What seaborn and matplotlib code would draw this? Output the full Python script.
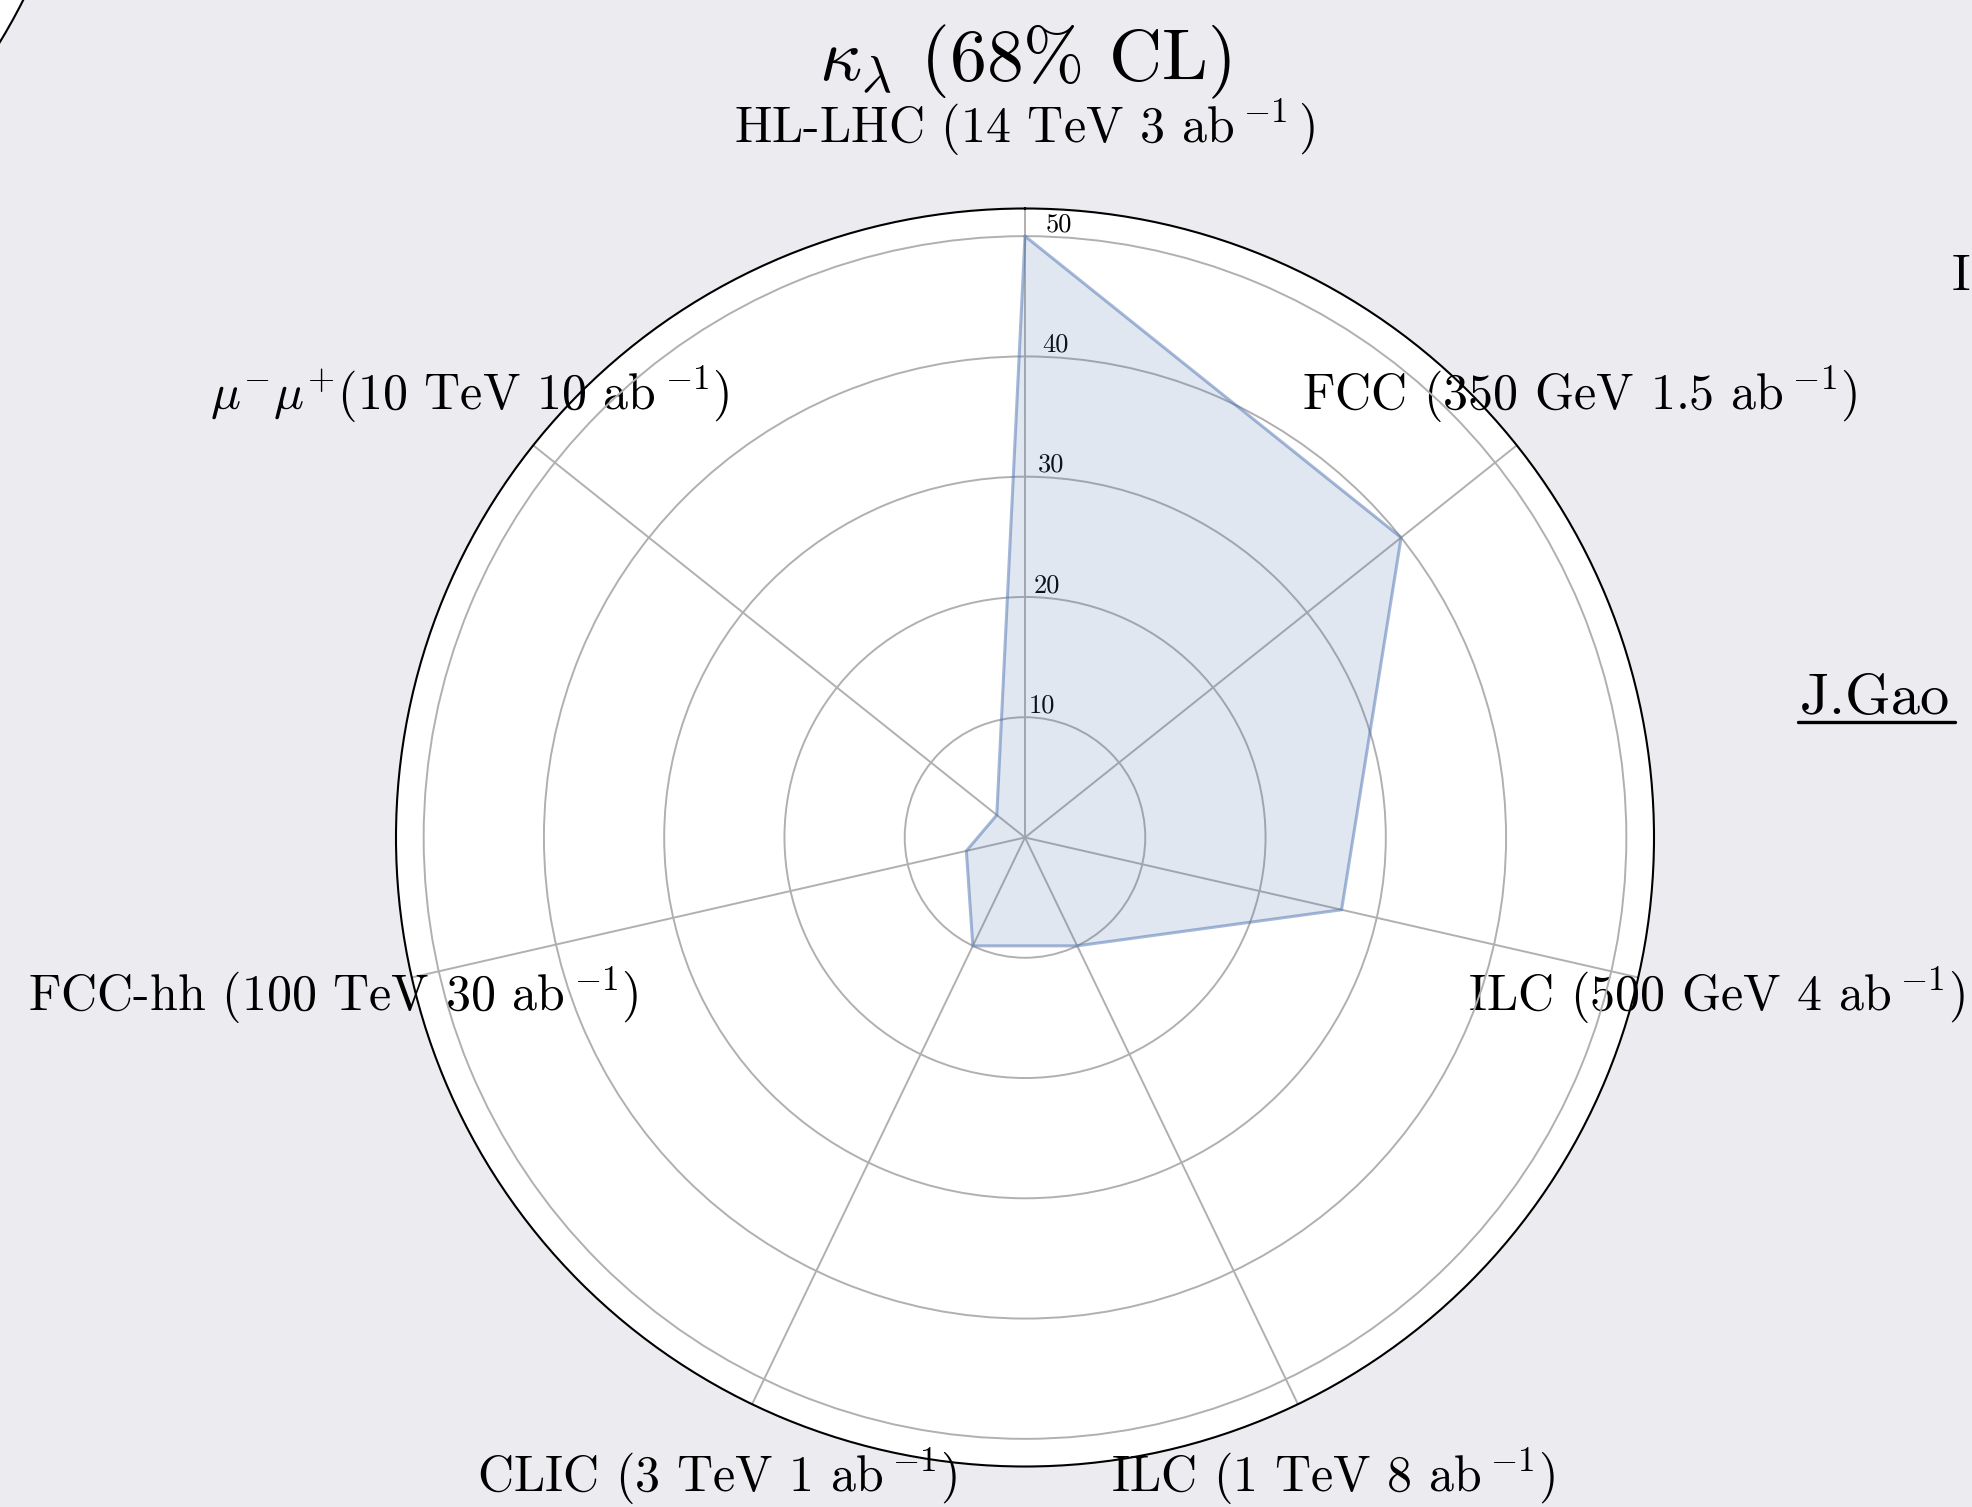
import numpy as np
import matplotlib
matplotlib.use("Agg")
import matplotlib.pyplot as plt
from matplotlib.lines import Line2D
import seaborn as sns

# Projected kappa_lambda precision (68% CL, in %) at future colliders
colliders = [
    r"HL-LHC (14 TeV 3 ab$\,{}^{-1}\,$)",
    r"FCC (350 GeV 1.5 ab$\,{}^{-1}$)",
    r"ILC (500 GeV 4 ab$\,{}^{-1}$)",
    r"ILC (1 TeV 8 ab$\,{}^{-1}$)",
    r"CLIC (3 TeV 1 ab$\,{}^{-1}$)",
    r"FCC-hh (100 TeV 30 ab$\,{}^{-1}$)",
    r"$\mu^{-}\mu^{+}$(10 TeV 10 ab$\,{}^{-1}$)",
]
kappa_lambda = [50, 40, 27, 10, 10, 5, 3]
r_ticks = [10, 20, 30, 40, 50]
r_tick_labels = ["10", "20", "30", "40", "50"]
title_text = r"$\kappa_{\lambda}$ (68% CL)"
author_text = "J.Gao"

BG = "#ECEBEF"
LINE = "#4C72B0"

sns.set_theme(style="white")
plt.rcParams["font.family"] = ["cmr10", "DejaVu Serif"]
plt.rcParams["mathtext.fontset"] = "cm"
plt.rcParams["axes.formatter.use_mathtext"] = True
plt.rcParams["axes.unicode_minus"] = True
plt.rcParams["text.color"] = "black"
plt.rcParams["xtick.color"] = "black"
plt.rcParams["ytick.color"] = "black"

W, H = 1972, 1507
fig = plt.figure(figsize=(W / 100, H / 100), dpi=100, facecolor=BG)

# neighbouring panel, only its rim reaches into this view
ghost = fig.add_axes([-0.5918, 0.7711, 0.638, 0.8348], projection="polar")
ghost.set_facecolor("white")
ghost.set_xticks([])
ghost.set_yticks([])
ghost.grid(False)
ghost.spines["polar"].set_color("black")
ghost.spines["polar"].set_linewidth(1.5)

# main radar panel
cx, cy, rad = 1025, 837.5, 629
ax = fig.add_axes([(cx - rad) / W, (H - cy - rad) / H, 2 * rad / W, 2 * rad / H],
                  projection="polar")
ax.set_facecolor("white")
ax.set_theta_offset(np.pi / 2)
ax.set_theta_direction(-1)

n = len(colliders)
theta = np.linspace(0, 2 * np.pi, n, endpoint=False)
theta_closed = np.append(theta, theta[0])
vals_closed = np.append(kappa_lambda, kappa_lambda[0])

ax.fill(theta_closed, vals_closed, color=LINE, alpha=0.17, lw=0)
sns.lineplot(x=theta_closed, y=vals_closed, sort=False, estimator=None,
             color=LINE, alpha=0.5, lw=2.2, ax=ax)

ax.set_ylim(0, 52.3)
ax.set_yticks(r_ticks)
ax.set_yticklabels(r_tick_labels, fontsize=19, color="black")
ax.set_rlabel_position(2)

ax.set_xticks(theta)
ax.set_xticklabels(colliders, fontsize=36, color="black")
ax.tick_params(axis="x", pad=51, length=0)
ax.tick_params(axis="y", length=0)

ax.grid(True, color="#b0b0b0", lw=1.4)
ax.spines["polar"].set_color("black")
ax.spines["polar"].set_linewidth(1.5)
ax.set_xlabel("")
ax.set_ylabel("")

fig.text(cx / W, 1 - 80 / H, title_text, ha="center", va="baseline",
         fontsize=53, color="black")

fig.text(1800 / W, 1 - 714 / H, author_text, ha="left", va="baseline",
         fontsize=42, color="black")
fig.add_artist(Line2D([1798 / W, 1955 / W], [1 - 722 / H, 1 - 722 / H],
                      transform=fig.transFigure, color="black", lw=2.4))

fig.text(1952 / W, 1 - 290 / H, "I", ha="left", va="baseline",
         fontsize=37, color="black")

fig.savefig("out.png", dpi=100, facecolor=BG)
